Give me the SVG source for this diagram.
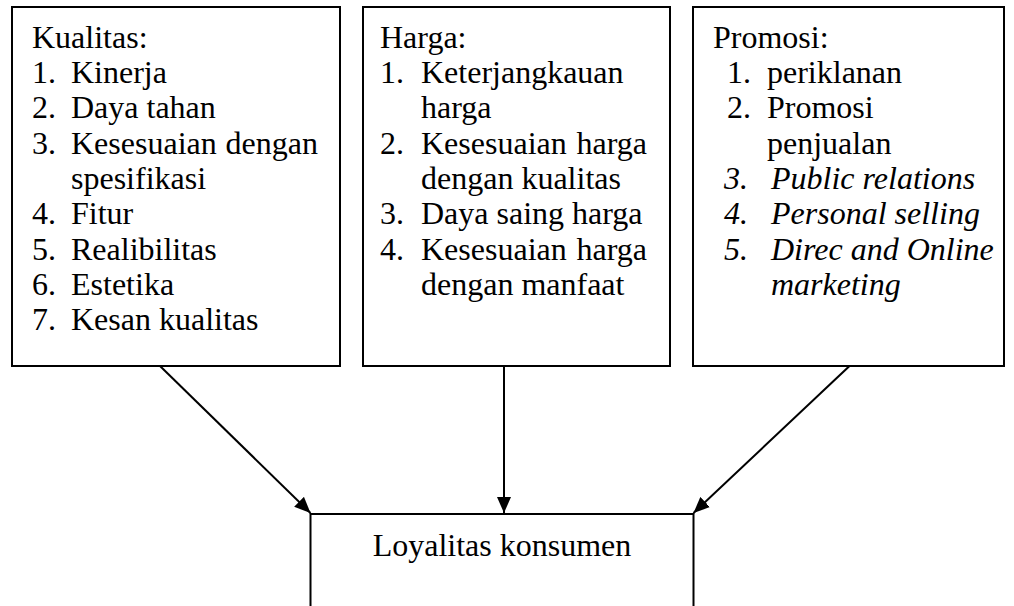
<svg xmlns="http://www.w3.org/2000/svg" width="1014" height="606" viewBox="0 0 1014 606">
<style>
.box{fill:#fff;stroke:#000;stroke-width:2}
.t{font-size:32px;fill:#000}
.it{font-style:italic}
.con{stroke:#000;stroke-width:2;fill:none;marker-end:url(#ah)}
</style>
<defs>
<marker id="ah" markerUnits="userSpaceOnUse" markerWidth="16" markerHeight="14" refX="16" refY="7" orient="auto">
<path d="M0,0 L16,7 L0,14 z" fill="#000"/>
</marker>
</defs>
<rect width="1014" height="606" fill="#fff"/>
<g id="kualitas" class="t" style="font-family:'Liberation Serif'">
<rect class="box" x="12" y="7" width="328" height="359"/>
<text x="32" y="47.7">Kualitas:</text>
<text x="32" y="83">1.</text><text x="71" y="83">Kinerja</text>
<text x="32" y="118.3">2.</text><text x="71" y="118.3">Daya tahan</text>
<text x="32" y="153.6">3.</text><text x="71" y="153.6">Kesesuaian</text><text x="318" y="153.6" text-anchor="end">dengan</text>
<text x="71" y="188.9">spesifikasi</text>
<text x="32" y="224.2">4.</text><text x="71" y="224.2">Fitur</text>
<text x="32" y="259.5">5.</text><text x="71" y="259.5">Realibilitas</text>
<text x="32" y="294.8">6.</text><text x="71" y="294.8">Estetika</text>
<text x="32" y="330.1">7.</text><text x="71" y="330.1">Kesan kualitas</text>
</g>
<g id="harga" class="t" style="font-family:'Liberation Serif'">
<rect class="box" x="363" y="7" width="307" height="359"/>
<text x="380" y="47.7">Harga:</text>
<text x="380" y="83">1.</text><text x="421" y="83">Keterjangkauan</text>
<text x="421" y="118.3">harga</text>
<text x="380" y="153.6">2.</text><text x="421" y="153.6">Kesesuaian</text><text x="647" y="153.6" text-anchor="end">harga</text>
<text x="421" y="188.9">dengan kualitas</text>
<text x="380" y="224.2">3.</text><text x="421" y="224.2">Daya saing harga</text>
<text x="380" y="259.5">4.</text><text x="421" y="259.5">Kesesuaian</text><text x="647" y="259.5" text-anchor="end">harga</text>
<text x="421" y="294.8">dengan manfaat</text>
</g>
<g id="promosi" class="t" style="font-family:'Liberation Serif'">
<rect class="box" x="693" y="7" width="311" height="359"/>
<text x="713" y="47.7">Promosi:</text>
<text x="727" y="83">1.</text><text x="767" y="83">periklanan</text>
<text x="727" y="118.3">2.</text><text x="767" y="118.3">Promosi</text>
<text x="767" y="153.6">penjualan</text>
<text class="it" x="724" y="188.9">3.</text><text class="it" x="771" y="188.9">Public relations</text>
<text class="it" x="724" y="224.2">4.</text><text class="it" x="771" y="224.2">Personal selling</text>
<text class="it" x="724" y="259.5">5.</text><text class="it" x="771" y="259.5">Direc and Online</text>
<text class="it" x="771" y="294.8">marketing</text>
</g>
<g id="loyalitas" class="t" style="font-family:'Liberation Serif'">
<rect class="box" x="310.5" y="514" width="383" height="110"/>
<text x="502" y="556" text-anchor="middle">Loyalitas konsumen</text>
</g>
<g id="connectors">
<line class="con" x1="160" y1="366" x2="310.5" y2="513"/>
<line class="con" x1="504" y1="366" x2="504" y2="513"/>
<line class="con" x1="849.5" y1="366" x2="693.5" y2="513"/>
</g>
</svg>
